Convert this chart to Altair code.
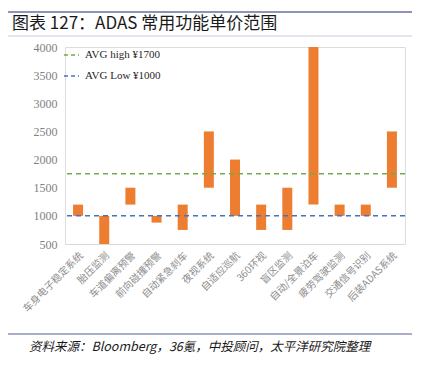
import altair as alt
import pandas as pd

categories = ["车身电子稳定系统", "胎压监测", "车道偏离预警", "前向碰撞预警", "自动紧急刹车",
              "夜视系统", "自适应巡航", "360环视", "盲区监测", "自动/全景泊车",
              "疲劳驾驶监测", "交通信号识别", "后装ADAS系统"]
low = [1000, 500, 1200, 880, 750, 1500, 1000, 750, 750, 1200, 1000, 1000, 1500]
high = [1200, 1000, 1500, 1000, 1200, 2500, 2000, 1200, 1500, 4000, 1200, 1200, 2500]
y_ticks = [500, 1000, 1500, 2000, 2500, 3000, 3500, 4000]
avg_labels = ["AVG high ¥1700", "AVG Low ¥1000"]
avg_values = [1750, 1000]
avg_colors = ["#70AD47", "#4472C4"]
title_text = "图表 127：ADAS 常用功能单价范围"
source_text = "资料来源：Bloomberg，36氪，中投顾问，太平洋研究院整理"

df = pd.DataFrame({"cat": categories, "low": low, "high": high})
avg_df = pd.DataFrame({"label": avg_labels, "v": avg_values, "c": avg_colors})

W, H = 340, 197

x_enc = alt.X("cat:N", sort=categories, title=None,
              axis=alt.Axis(labelAngle=-45, labelFont="Noto Sans CJK SC", labelFontSize=10,
                            labelColor="#8c8c8c", ticks=False, domainColor="#d9d9d9",
                            labelPadding=6, labelLimit=200))
y_scale = alt.Scale(domain=[500, 4000], nice=False, zero=False)

bars = alt.Chart(df).mark_bar(color="#ED7D31", width=10).encode(
    x=x_enc,
    y=alt.Y("low:Q", scale=y_scale, title=None,
            axis=alt.Axis(values=y_ticks, format="d", labelOverlap=False, grid=False,
                          domain=False, ticks=False,
                          labelFont="Liberation Serif", labelFontSize=12, labelColor="#7f7f7f",
                          labelPadding=8)),
    y2="high:Q",
)

avg_lines = alt.Chart(avg_df).mark_rule(strokeDash=[5, 4], strokeWidth=1.5).encode(
    y=alt.Y("v:Q", scale=y_scale, axis=None),
    color=alt.Color("c:N", scale=None),
)

leg_df = pd.DataFrame({"label": avg_labels, "c": avg_colors, "py": [8, 29]})
leg_lines = alt.Chart(leg_df).mark_rule(strokeDash=[4, 3], strokeWidth=1.5).encode(
    x=alt.value(-1), x2=alt.value(14), y=alt.Y("py:Q", scale=None, axis=None),
    color=alt.Color("c:N", scale=None),
)
leg_text = alt.Chart(leg_df).mark_text(align="left", baseline="middle", font="Liberation Serif",
                                       fontSize=11, color="#262626").encode(
    x=alt.value(20), y=alt.Y("py:Q", scale=None, axis=None), text="label:N",
)

title_df = pd.DataFrame({"t": [title_text]})
title_mark = alt.Chart(title_df).mark_text(align="left", baseline="middle", font="Noto Sans CJK SC",
                                           fontSize=17, color="#1a1a1a").encode(
    x=alt.value(-53), y=alt.value(-23), text="t:N")

src_df = pd.DataFrame({"t": [source_text]})
src_mark = alt.Chart(src_df).mark_text(align="left", baseline="middle", font="Noto Sans CJK SC",
                                       fontSize=12.5, fontStyle="italic", color="#1a1a1a").encode(
    x=alt.value(-36), y=alt.value(300), text="t:N")

line_df = pd.DataFrame({"yy": [-35, -11, 287], "c": ["#8f93b8", "#c8cbe0", "#8f93b8"], "w": [2, 1, 1.5]})
frame_lines = alt.Chart(line_df).mark_rule().encode(
    x=alt.value(-62), x2=alt.value(347), y=alt.Y("yy:Q", scale=None, axis=None),
    color=alt.Color("c:N", scale=None), strokeWidth=alt.StrokeWidth("w:Q", scale=None),
)

chart = alt.layer(bars, avg_lines, leg_lines, leg_text, title_mark, src_mark, frame_lines).properties(
    width=W, height=H,
    autosize=alt.AutoSizeParams(type="none"),
    padding={"left": 57, "top": 39, "right": 12, "bottom": 125},
).resolve_axis(y="independent").resolve_scale(y="independent").configure_view(stroke=None).configure(background="white")

chart.save("out.html", embed_options={"renderer": "svg", "actions": False})
